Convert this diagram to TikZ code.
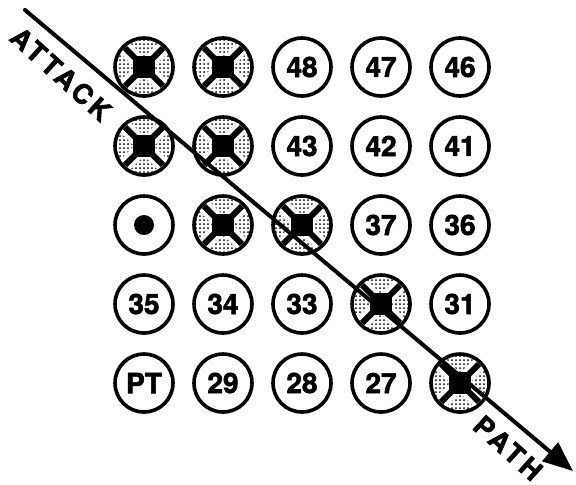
\documentclass[tikz,border=0pt]{standalone}
\usepackage{fontspec}
\setmainfont{TeX Gyre Heros}[BoldFeatures={FakeBold=2}]
\newfontfamily\widefont{TeX Gyre Heros}[LetterSpace=14, BoldFeatures={FakeBold=2, LetterSpace=14}]
\usetikzlibrary{arrows.meta, patterns.meta, positioning}
\tikzset{
  ring/.style={circle, draw, line width=1.8pt, minimum size=29pt, inner sep=0pt, font=\bfseries\fontsize{14}{14}\selectfont},
  hit/.style={ring, pattern={Dots[distance=2pt, radius=0.5pt]}},
  lbl/.style={font=\widefont\bfseries\fontsize{13.5}{13.5}\selectfont, rotate=-42, inner sep=0pt},
  attackline/.style={line width=2pt, line cap=round, -{Triangle[length=15pt, width=12pt]}}
}

\begin{document}
\begin{tikzpicture}[x=0.5pt, y=-0.5pt]
  \useasboundingbox (0,0) rectangle (576,484);
  % numbered posts
  \foreach \r/\c/\t in {1/3/48,1/4/47,1/5/46,2/3/43,2/4/42,2/5/41,3/4/37,3/5/36,
      4/1/35,4/2/34,4/3/33,4/5/31,5/1/PT,5/2/29,5/3/28,5/4/27}
    \node[ring] (n\r\c) at ({144+79*(\c-1)},{67+79*(\r-1)}) {\t};
  % own position
  \node[ring] (n31) at (144,225) {};
  \fill (n31.center) circle (5pt);
  % knocked out posts
  \foreach \r/\c in {1/1,1/2,2/1,2/2,3/2,3/3,4/4,5/5}{
    \node[hit] (n\r\c) at ({144+79*(\c-1)},{67+79*(\r-1)}) {};
    \begin{scope}\clip (n\r\c.center) circle (13.5pt);
      \draw[white, line width=7pt] (n\r\c.45)--(n\r\c.225) (n\r\c.135)--(n\r\c.315);
      \draw[line width=3pt] (n\r\c.45)--(n\r\c.225) (n\r\c.135)--(n\r\c.315);
    \end{scope}
    \fill (n\r\c.center) +(-5.5pt,-5.5pt) rectangle +(5.5pt,5.5pt);}
  % attack path
  \coordinate (start) at (25,10);
  \coordinate (stop) at (573,471);
  \draw[attackline] (start) -- (stop);
  \node[lbl] (attack) at (61,74) {ATTACK};
  \node[lbl] (path) at (508,448) {PATH};
\end{tikzpicture}
\end{document}
